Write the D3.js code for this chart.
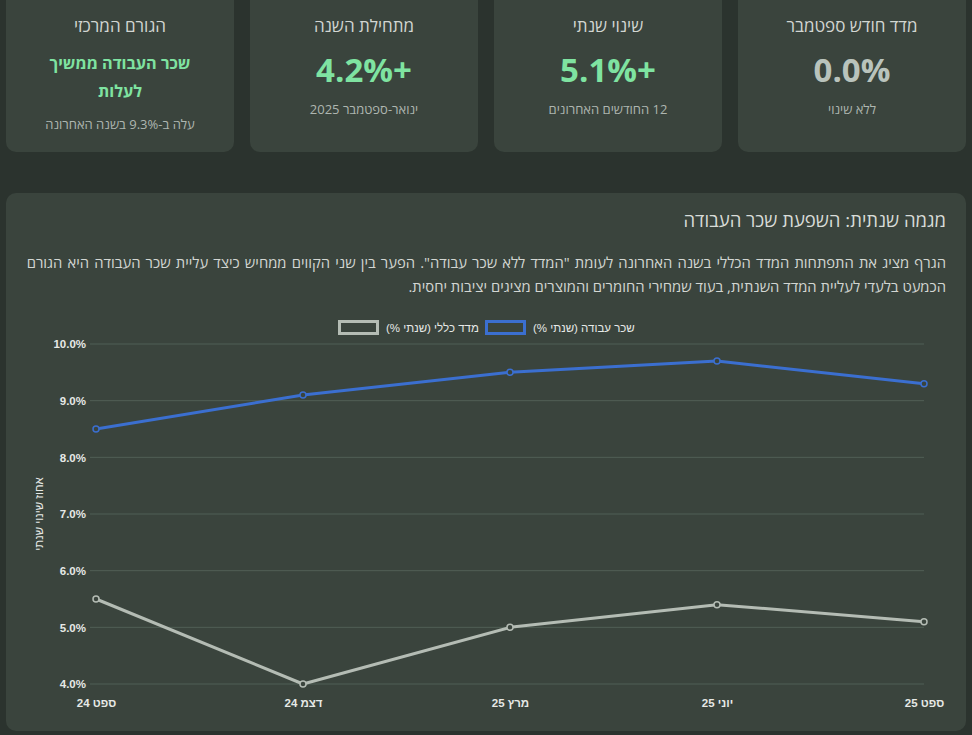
<!DOCTYPE html>
<html lang="he" dir="rtl">
<head>
<meta charset="utf-8">
<script src="https://cdn.jsdelivr.net/npm/d3@7"></script>
<style>
  html, body { margin:0; padding:0; background:#2b332e; width:972px; height:735px; overflow:hidden; font-family:"Open Sans","Noto Sans",sans-serif; }
  .card { position:absolute; top:-30px; height:182px; width:228px; background:#3a443d; border-radius:10px; text-align:center; box-sizing:border-box; }
  .card .t { position:absolute; left:0; right:0; top:44px; font-size:17px; color:#d2d6d2; line-height:24px; }
  .card .v { position:absolute; left:0; right:0; top:79px; font-size:33px; font-weight:700; color:#7fe3a1; line-height:42px; }
  .card .v.gray { color:#b9c3bc; }
  .card .v.txt { font-size:16.2px; line-height:28px; top:79px; }
  .card .s { position:absolute; left:0; right:0; top:130px; font-size:13px; color:#aeb6b0; line-height:18px; }
  .card .s.low { top:145px; }
  #panel { position:absolute; left:6px; top:193px; width:960px; height:538px; background:#3a443d; border-radius:10px; }
  #title { position:absolute; right:20px; top:14px; font-size:18.5px; color:#d8dcd8; line-height:26px; white-space:nowrap; }
  #desc { position:absolute; right:20px; top:57px; font-size:14.8px; color:#d2d6d2; line-height:24px; white-space:nowrap; }
  #desc div:first-child { word-spacing:1.3px; }
  svg { position:absolute; left:0; top:0; }
</style>
</head>
<body>
<div id="cards"></div>
<div id="panel">
  <div id="title"></div>
  <div id="desc"></div>
</div>
<svg id="chart" width="972" height="735"></svg>
<script>
const categories = ["ספט 24", "דצמ 24", "מרץ 25", "יוני 25", "ספט 25"];
const laborValues = [8.5, 9.1, 9.5, 9.7, 9.3];
const overallValues = [5.5, 4.0, 5.0, 5.4, 5.1];
const yTicks = [4, 5, 6, 7, 8, 9, 10];
const seriesNames = ["שכר עבודה (שנתי %)", "מדד כללי (שנתי %)"];
const seriesColors = ["#3b6fd0", "#b4bcb4"];
const yAxisTitle = "אחוז שינוי שנתי";

const cardTitles = ["מדד חודש ספטמבר", "שינוי שנתי", "מתחילת השנה", "הגורם המרכזי"];
const cardValues = ["0.0%", "+5.1%", "+4.2%", "שכר העבודה ממשיך<br>לעלות"];
const cardSubs = ["ללא שינוי", "12 החודשים האחרונים", "ינואר-ספטמבר 2025", "עלה ב-9.3% בשנה האחרונה"];

const chartTitle = "מגמה שנתית: השפעת שכר העבודה";
const descLines = [
  "הגרף מציג את התפתחות המדד הכללי בשנה האחרונה לעומת \"המדד ללא שכר עבודה\". הפער בין שני הקווים ממחיש כיצד עליית שכר העבודה היא הגורם",
  "הכמעט בלעדי לעליית המדד השנתית, בעוד שמחירי החומרים והמוצרים מציגים יציבות יחסית."
];

// cards (RTL: first card on the right)
const cardLefts = [738, 494, 250, 6];
const cards = d3.select("#cards").selectAll("div.card").data(cardTitles).join("div")
  .attr("class", "card").style("left", (d, i) => cardLefts[i] + "px");
cards.append("div").attr("class", "t").text(d => d);
cards.append("div").attr("class", (d, i) => "v" + (i === 0 ? " gray" : "") + (i === 3 ? " txt" : ""))
  .html((d, i) => cardValues[i]);
cards.append("div").attr("class", (d, i) => "s" + (i === 3 ? " low" : "")).text((d, i) => cardSubs[i]);

d3.select("#title").text(chartTitle);
d3.select("#desc").selectAll("div").data(descLines).join("div").text(d => d);

// chart
const svg = d3.select("#chart");
const x = d3.scalePoint().domain(categories).range([96, 924]);
const y = d3.scaleLinear().domain([4, 10]).range([684, 344]);

const grid = svg.append("g");
grid.selectAll("line").data(yTicks).join("line")
  .attr("x1", 90).attr("x2", x.range()[1])
  .attr("y1", d => y(d)).attr("y2", d => y(d))
  .attr("stroke", "#536259").attr("stroke-opacity", 0.9).attr("stroke-width", 1);

const yAxis = svg.append("g").attr("transform", "translate(86,0)")
  .call(d3.axisLeft(y).tickValues(yTicks).tickFormat(d => d3.format(".1f")(d) + "%").tickSize(0).tickPadding(0));
yAxis.select(".domain").remove();
yAxis.selectAll("text").attr("fill", "#e6e9e6").style("font-family", "'Liberation Sans', Arial, sans-serif")
  .style("font-size", "11.5px").style("font-weight", "700").attr("direction", "ltr");

const xAxis = svg.append("g").attr("transform", "translate(0,698)")
  .call(d3.axisBottom(x).tickSize(0).tickPadding(0));
xAxis.select(".domain").remove();
xAxis.selectAll("text").attr("fill", "#e6e9e6").attr("direction", "rtl").attr("dy", "0.75em")
  .style("font-family", "'Liberation Sans', Arial, sans-serif").style("font-size", "11.5px").style("font-weight", "700");

svg.append("text").attr("transform", "translate(39,514) rotate(-90)")
  .attr("text-anchor", "middle").attr("dy", "0.35em").attr("direction", "rtl")
  .attr("fill", "#e6e9e6").style("font-family", "'Liberation Sans', Arial, sans-serif").style("font-size", "11.5px")
  .text(yAxisTitle);

const line = d3.line().x((d, i) => x(categories[i])).y(d => y(d));
const series = [laborValues, overallValues];
[1, 0].forEach(si => {
  svg.append("path").datum(series[si]).attr("d", line)
    .attr("fill", "none").attr("stroke", seriesColors[si]).attr("stroke-width", 3).attr("stroke-linejoin", "round");
  svg.append("g").selectAll("circle").data(series[si]).join("circle")
    .attr("cx", (d, i) => x(categories[i])).attr("cy", d => y(d)).attr("r", 3)
    .attr("fill", "#3a443d").attr("stroke", seriesColors[si]).attr("stroke-width", 1.5);
});

// legend (RTL order)
const legendBoxX = [485, 338];
const legend = svg.append("g");
seriesNames.forEach((name, i) => {
  legend.append("rect").attr("x", legendBoxX[i] + 1.5).attr("y", 321.5).attr("width", 38).attr("height", 12)
    .attr("fill", "#3a443d").attr("stroke", seriesColors[i]).attr("stroke-width", 3);
  legend.append("text").attr("x", legendBoxX[i] + 48).attr("y", 328).attr("dy", "0.35em")
    .attr("direction", "rtl").attr("text-anchor", "end")
    .attr("fill", "#e6e9e6").style("font-family", "'Liberation Sans', Arial, sans-serif").style("font-size", "11.5px")
    .text(name);
});
</script>
</body>
</html>
